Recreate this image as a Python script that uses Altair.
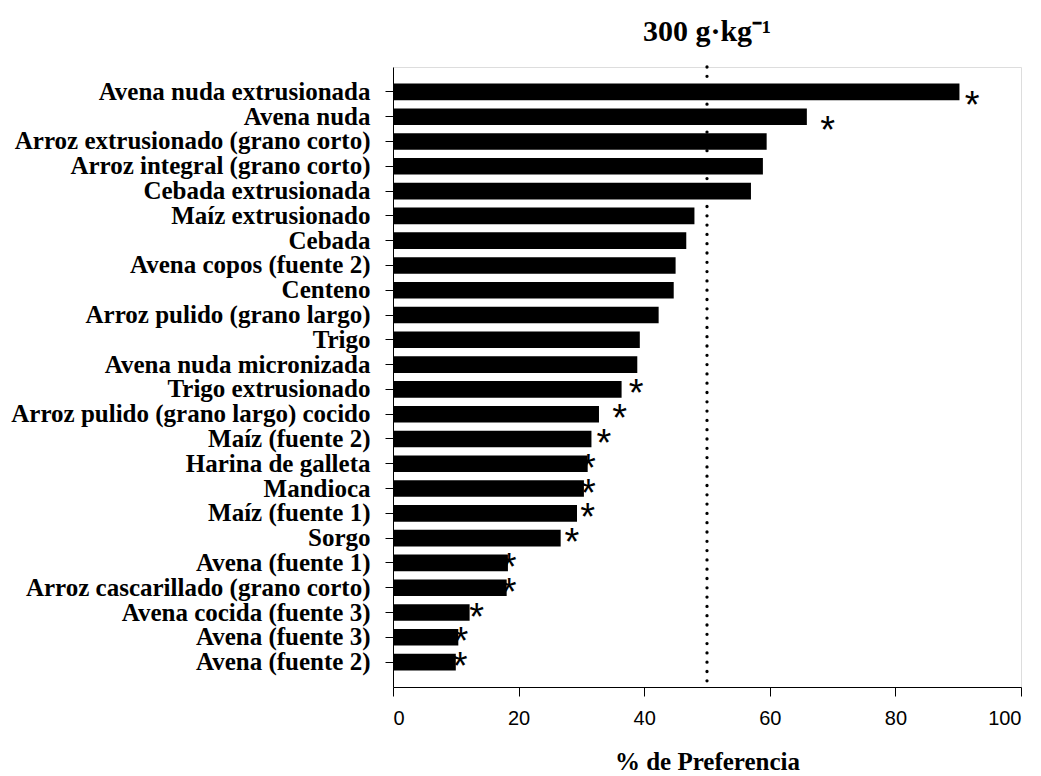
import altair as alt
import pandas as pd

categorias = [
    "Avena nuda extrusionada",
    "Avena nuda",
    "Arroz extrusionado (grano corto)",
    "Arroz integral (grano corto)",
    "Cebada extrusionada",
    "Maíz extrusionado",
    "Cebada",
    "Avena copos (fuente 2)",
    "Centeno",
    "Arroz pulido (grano largo)",
    "Trigo",
    "Avena nuda micronizada",
    "Trigo extrusionado",
    "Arroz pulido (grano largo) cocido",
    "Maíz (fuente 2)",
    "Harina de galleta",
    "Mandioca",
    "Maíz (fuente 1)",
    "Sorgo",
    "Avena (fuente 1)",
    "Arroz cascarillado (grano corto)",
    "Avena cocida (fuente 3)",
    "Avena (fuente 3)",
    "Avena (fuente 2)",
]
preferencia = [90.2, 65.9, 59.5, 58.9, 57.0, 48.0, 46.7, 45.0, 44.7, 42.3, 39.3, 38.9,
               36.4, 32.8, 31.6, 31.0, 30.4, 29.3, 26.7, 18.3, 18.1, 12.2, 10.4, 10.0]

# asterisks (significant differences): category and position on the x scale
asterisco_cat = ["Avena nuda extrusionada", "Avena nuda", "Trigo extrusionado",
                 "Arroz pulido (grano largo) cocido", "Maíz (fuente 2)", "Harina de galleta",
                 "Mandioca", "Maíz (fuente 1)", "Sorgo", "Avena (fuente 1)",
                 "Arroz cascarillado (grano corto)", "Avena cocida (fuente 3)",
                 "Avena (fuente 3)", "Avena (fuente 2)"]
asterisco_x = [92.2, 69.2, 38.7, 36.1, 33.6, 31.1, 31.1, 31.0, 28.5, 18.5, 18.5, 13.3, 10.8, 10.7]
asterisco_bajo = [True, True] + [False] * 12

referencia = [50]
x_ticks = [0, 20, 40, 60, 80, 100]

bars_df = pd.DataFrame({"cat": categorias, "val": preferencia})
star_df = pd.DataFrame({"cat": asterisco_cat, "x": asterisco_x, "bajo": asterisco_bajo})
ref_df = pd.DataFrame({"ref": referencia})

y_enc = alt.Y(
    "cat:N",
    sort=categorias,
    scale=alt.Scale(paddingInner=0.33, paddingOuter=0.67),
    axis=alt.Axis(
        title=None,
        labelFont="Liberation Serif",
        labelFontWeight="bold",
        labelFontSize=25,
        labelColor="black",
        labelPadding=15,
        labelLimit=600,
        tickSize=8,
        tickColor="black",
        domainColor="black",
        grid=False,
    ),
)
x_scale = alt.Scale(domain=[0, 100], nice=False)

bars = alt.Chart(bars_df).mark_bar(color="black").encode(
    x=alt.X(
        "val:Q",
        scale=x_scale,
        axis=alt.Axis(
            title="% de Preferencia",
            values=x_ticks,
            labelFont="Liberation Sans",
            labelFontSize=20,
            labelColor="black",
            labelPadding=12,
            tickSize=9,
            tickColor="black",
            domainColor="black",
            grid=False,
            titleFont="Liberation Serif",
            titleFontWeight="bold",
            titleFontSize=25,
            titleColor="black",
            titleBaseline="alphabetic",
            titleY=82,
        ),
    ),
    y=y_enc,
)

rule = alt.Chart(ref_df).mark_rule(
    color="black", strokeWidth=3.3, strokeDash=[0, 9.3], strokeCap="round"
).encode(x=alt.X("ref:Q", scale=x_scale))

stars_hi = alt.Chart(star_df).transform_filter("!datum.bajo").mark_text(
    text="*", font="Liberation Sans", fontSize=38, baseline="middle", align="center", dy=6, color="black"
).encode(x=alt.X("x:Q", scale=x_scale), y=alt.Y("cat:N", sort=categorias))

stars_lo = alt.Chart(star_df).transform_filter("datum.bajo").mark_text(
    text="*", font="Liberation Sans", fontSize=38, baseline="middle", align="center", dy=15, color="black"
).encode(x=alt.X("x:Q", scale=x_scale), y=alt.Y("cat:N", sort=categorias))

chart = alt.layer(bars, rule, stars_hi, stars_lo).properties(
    width=628,
    height=620,
    title=alt.TitleParams(
        text="300 g·kg⁻¹",
        font="Liberation Serif",
        fontSize=30,
        fontWeight="bold",
        color="black",
        anchor="middle",
        frame="group",
        baseline="alphabetic",
        offset=25,
        dy=31,
    ),
    autosize=alt.AutoSizeParams(type="none"),
    padding={"left": 393, "top": 67, "right": 20, "bottom": 89},
).configure_view(stroke=None).configure(background="white")

chart.save("out.html", embed_options={"renderer": "svg", "actions": False})
